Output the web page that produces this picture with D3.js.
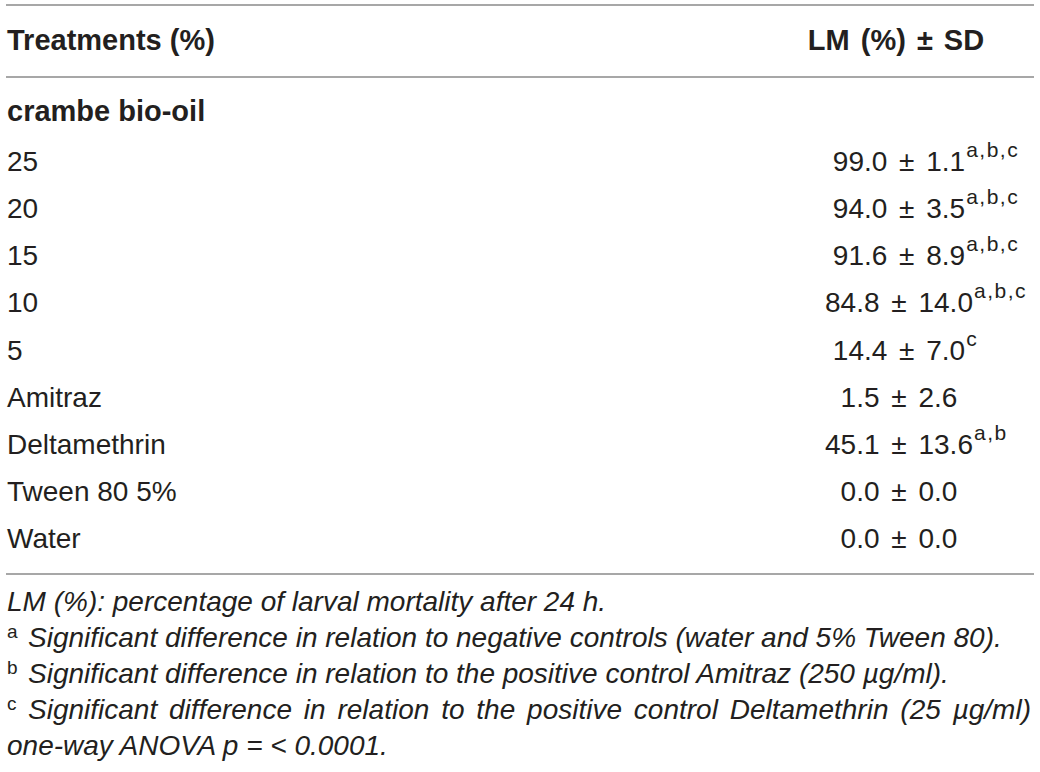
<!DOCTYPE html>
<html>
<head>
<meta charset="utf-8">
<script src="https://d3js.org/d3.v7.min.js"></script>
<style>
  body{margin:0; background:#fff;}
  svg{display:block;}
  text{font-family:"Liberation Sans", Arial, sans-serif; fill:#231f20;}
</style>
</head>
<body>
<script>
// table data
var headers = ["Treatments (%)", "LM (%) \u00b1 SD"];
var groupLabel = "crambe bio-oil";
var treatments = ["25", "20", "15", "10", "5", "Amitraz", "Deltamethrin", "Tween 80 5%", "Water"];
var means = [99.0, 94.0, 91.6, 84.8, 14.4, 1.5, 45.1, 0.0, 0.0];
var sds = [1.1, 3.5, 8.9, 14.0, 7.0, 2.6, 13.6, 0.0, 0.0];
var marks = ["a,b,c", "a,b,c", "a,b,c", "a,b,c", "c", "", "a,b", "", ""];
var notes = [
  {sup: "", text: "LM (%): percentage of larval mortality after 24 h."},
  {sup: "a", text: "Significant difference in relation to negative controls (water and 5% Tween 80)."},
  {sup: "b", text: "Significant difference in relation to the positive control Amitraz (250 \u00b5g/ml)."},
  {sup: "c", text: "Significant difference in relation to the positive control Deltamethrin (25 \u00b5g/ml)", justify: true},
  {sup: "", text: "one-way ANOVA p = < 0.0001."}
];

var width = 1040, height = 772;
var left = 6, right = 1034;
var col2 = 899;

var svg = d3.select("body").append("svg").attr("width", width).attr("height", height);

// rules
var rules = [5, 77, 574];
svg.selectAll("line.rule").data(rules).enter().append("line")
  .attr("class", "rule")
  .attr("x1", left).attr("x2", right)
  .attr("y1", function(d){ return d; }).attr("y2", function(d){ return d; })
  .attr("stroke", "#a7a7a7").attr("stroke-width", 2);

// header
svg.append("text").attr("x", 7).attr("y", 50)
  .style("font-size", "29px").style("font-weight", "bold")
  .text(headers[0]);
svg.append("text").attr("x", 896).attr("y", 50)
  .attr("text-anchor", "middle")
  .style("font-size", "29px").style("font-weight", "bold")
  .attr("word-spacing", 3)
  .text(headers[1]);

svg.append("text").attr("x", 7).attr("y", 121)
  .style("font-size", "29px").style("font-weight", "bold")
  .text(groupLabel);

// rows
var y = d3.scaleLinear().domain([0, treatments.length - 1]).range([171, 548]);

var rows = svg.selectAll("g.row").data(treatments).enter().append("g")
  .attr("class", "row")
  .attr("transform", function(d, i){ return "translate(0," + y(i) + ")"; });

rows.append("text").attr("x", 7)
  .style("font-size", "28px")
  .text(function(d){ return d; });

rows.each(function(d, i){
  var g = d3.select(this);
  var t = g.append("text").style("font-size", "28px")
    .attr("word-spacing", 4)
    .text(means[i].toFixed(1) + " \u00b1 " + sds[i].toFixed(1));
  var w = t.node().getBBox().width;
  t.attr("x", col2 - w / 2);
  if (marks[i]) {
    g.append("text").attr("x", col2 + w / 2 + 1).attr("y", -14)
      .style("font-size", "21px")
      .attr("letter-spacing", 1.5)
      .text(marks[i]);
  }
});

// footnotes
var fy = d3.scaleLinear().domain([0, notes.length - 1]).range([611, 755]);
notes.forEach(function(n, i){
  if (n.sup) {
    svg.append("text").attr("x", 7).attr("y", fy(i) - 9)
      .style("font-size", "19px").text(n.sup);
  }
  var x0 = n.sup ? 28 : 7;
  var t = svg.append("text").attr("x", x0).attr("y", fy(i))
    .style("font-size", "28px").style("font-style", "italic")
    .text(n.text);
  if (n.justify) {
    var w = t.node().getComputedTextLength();
    var gaps = n.text.split(" ").length - 1;
    t.attr("word-spacing", ((1031 - x0) - w) / gaps);
  }
});
</script>
</body>
</html>
